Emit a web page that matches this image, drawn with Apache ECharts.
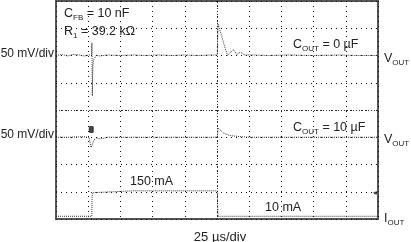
<!DOCTYPE html>
<html>
<head>
<meta charset="utf-8">
<script src="https://cdn.jsdelivr.net/npm/echarts@6/dist/echarts.min.js"></script>
<style>html,body{margin:0;padding:0;background:#fff}#c{width:411px;height:242px}</style>
</head>
<body>
<div id="c"></div>
<script>
// Time in µs (25 µs/div), 10 divisions
const timeMin = 0, timeMax = 250, timeDiv = 25;

// V_OUT, C_OUT = 0 µF : deviation in mV (50 mV/div)
const vout0Time = [0, 5, 9, 13, 18, 22, 26, 27.6, 27.9, 28.2, 28.6, 29.2, 30, 31.5, 34, 40, 50, 60, 70, 80, 90, 100, 110, 120, 125.2, 125.8, 128.6, 131.2, 133.3, 134.5, 137.6, 140.3, 142.9, 146.7, 152, 165, 180, 200, 220, 235, 250];
const vout0mV   = [0,   2,  -1, 2,  1,  -1, 1,  0,    23,   -74,  -20,  -8,   -6, 1,    -1, 1,  0,  1,  0,  1,  0,  1,   0,   1,   1,     58,    36,    14,    0,     -3,    11,    2,     6,     1,   1,   0,   1,   0,   1,   0,   0];

// V_OUT, C_OUT = 10 µF : deviation in mV (50 mV/div)
const vout10Time = [0, 10, 20, 25.6, 27.2, 29.5, 31.8, 34, 37, 40, 45, 60, 80, 100, 120, 125.2, 125.8, 129.9, 135.1, 141.3, 150, 180, 210, 250];
const vout10mV   = [0, 0,  1,  0,    -19,  -5,   -1,   -3, -2, 0,  0,  0,  0,  0,   0,   0,     17,    8,     3,     1.5,   0,   0,   0,   0];

// I_OUT in mA (150 mA/div)
const ioutTime = [0, 27.8, 28.0, 28.6, 29.2, 60, 100, 125.3, 125.7, 160, 200, 250];
const ioutmA   = [10, 10,  120,  140,  150,  150, 150, 150,  10,    10,  10,  10];

// Labels
const voltsPerDiv = '50 mV/div';
const timePerDiv = '25 µs/div';
const loadHigh = '150 mA';
const loadLow = '10 mA';

const pairs = (t, v) => t.map((x, i) => [x, v[i]]);
const FONT = '"Liberation Sans", Arial, sans-serif';
const TXT = '#222';
const rich = {
  m: {fontSize: 12.5, fontFamily: FONT, color: TXT, lineHeight: 14, verticalAlign: 'top'},
  s: {fontSize: 8, fontFamily: FONT, color: TXT, lineHeight: 8, padding: [7, 0, 0, 0], verticalAlign: 'top'}
};
function txt(x, y, text, opts) {
  return {
    type: 'text', x: x, y: y, silent: true, z: 100,
    style: Object.assign({text: text, rich: rich, fill: TXT, font: '12.5px ' + FONT, verticalAlign: 'middle'}, opts || {})
  };
}

const chart = echarts.init(document.getElementById('c'), null, {renderer: 'canvas'});
const gridDots = {color: '#111', width: 1, type: [1, 4]};
const traceStyle = {color: '#333', width: 1, type: [1, 1]};

chart.setOption({
  animation: false,
  backgroundColor: '#fff',
  grid: {left: 56, top: 1, width: 322, height: 218, show: true, borderColor: '#555', borderWidth: 2, backgroundColor: 'transparent'},
  xAxis: {type: 'value', min: timeMin, max: timeMax, interval: timeDiv,
    axisLine: {show: false}, axisTick: {show: false}, axisLabel: {show: false},
    splitLine: {show: true, lineStyle: gridDots}},
  yAxis: [
    {type: 'value', min: 0, max: 8, interval: 1, axisLine: {show: false}, axisTick: {show: false}, axisLabel: {show: false},
      splitLine: {show: true, lineStyle: gridDots}},
    {type: 'value', min: -300, max: 100, show: false, splitLine: {show: false}},
    {type: 'value', min: -150, max: 250, show: false, splitLine: {show: false}},
    {type: 'value', min: -5, max: 1195, show: false, splitLine: {show: false}}
  ],
  series: [
    {type: 'line', yAxisIndex: 0, data: [], silent: true,
      markLine: {silent: true, symbol: 'none', label: {show: false},
        lineStyle: {color: '#333', width: 1, type: [1, 2]},
        data: [{xAxis: 125}, {yAxis: 4}]}},
    {type: 'line', yAxisIndex: 1, data: pairs(vout0Time, vout0mV), showSymbol: false, lineStyle: traceStyle, silent: true},
    {type: 'line', yAxisIndex: 2, data: pairs(vout10Time, vout10mV), showSymbol: false, lineStyle: traceStyle, silent: true},
    {type: 'line', yAxisIndex: 3, data: pairs(ioutTime, ioutmA), showSymbol: false, lineStyle: traceStyle, silent: true},
    {type: 'scatter', yAxisIndex: 2, data: [[27.4, 14]], symbol: 'roundRect', symbolSize: [5, 7], itemStyle: {color: '#111'}, silent: true},
    {type: 'scatter', yAxisIndex: 3, data: [[247.5, 138]], symbol: 'triangle', symbolRotate: 90, symbolSize: [4, 4], itemStyle: {color: '#111'}, silent: true}
  ],
  graphic: [
    txt(54, 54, voltsPerDiv, {align: 'right', rich: null, font: '12px ' + FONT}),
    txt(54, 135, voltsPerDiv, {align: 'right', rich: null, font: '12px ' + FONT}),
    txt(64, 14, '{m|C}{s|FB}{m| = 10 nF}'),
    txt(64, 32, '{m|R}{s|1}{m| = 39.2 k\u03A9}'),
    txt(293, 45, '{m|C}{s|OUT}{m| = 0 \u00B5F}'),
    txt(293, 128, '{m|C}{s|OUT}{m| = 10 \u00B5F}'),
    txt(384, 59, '{m|V}{s|OUT}'),
    txt(384, 140, '{m|V}{s|OUT}'),
    txt(384, 219, '{m|I}{s|OUT}'),
    txt(130, 182, loadHigh, {rich: null}),
    txt(265, 208, loadLow, {rich: null}),
    txt(220, 237, timePerDiv, {align: 'center', rich: null, font: '13px ' + FONT})
  ]
});
</script>
</body>
</html>
